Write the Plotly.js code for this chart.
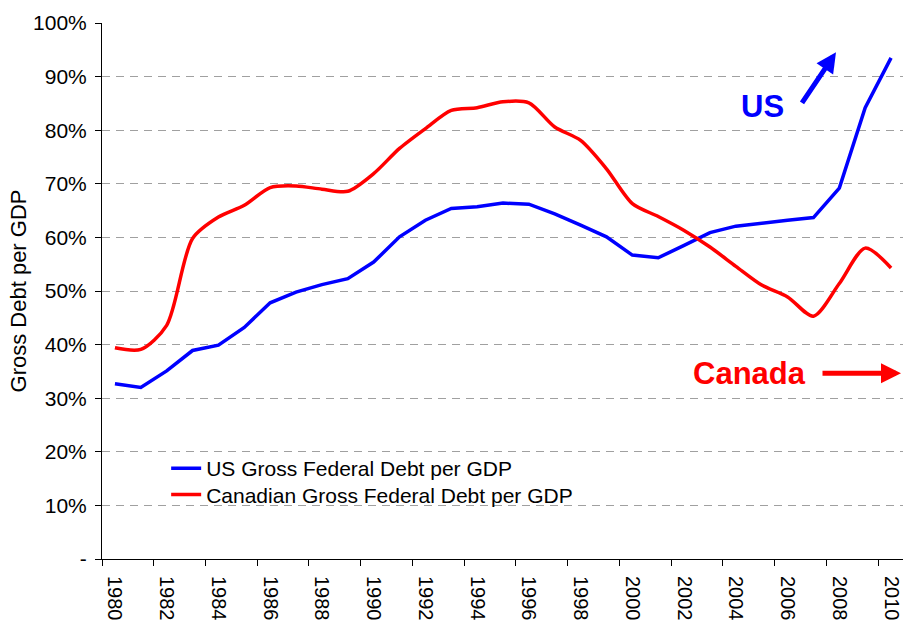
<!DOCTYPE html>
<html>
<head>
<meta charset="utf-8">
<script src="https://cdn.plot.ly/plotly-3.0.1.min.js"></script>
<style>
html,body{margin:0;padding:0;overflow:hidden;background:#fff;}
#chart{width:904px;height:623px;}
</style>
</head>
<body>
<div id="chart"></div>
<script>
// ---- data ----
const years = [1980,1981,1982,1983,1984,1985,1986,1987,1988,1989,1990,1991,1992,1993,1994,1995,
               1996,1997,1998,1999,2000,2001,2002,2003,2004,2005,2006,2007,2008,2009,2010];
const usDebt = [32.7,32.0,35.1,38.9,39.9,43.2,47.8,49.8,51.2,52.3,55.4,60.1,63.2,65.4,65.7,66.4,
                66.2,64.4,62.3,60.1,56.7,56.2,58.5,60.9,62.1,62.7,63.2,63.7,69.2,84.2,93.5];
const canDebt = [39.4,39.1,43.6,59.8,63.8,66.0,69.3,69.6,69.0,68.6,71.9,76.6,80.3,83.7,84.2,85.3,
                 85.1,80.6,78.1,72.8,66.3,63.9,61.3,58.2,54.6,51.1,48.9,45.3,51.4,58.0,54.3];
const seriesNames = ["US Gross Federal Debt per GDP", "Canadian Gross Federal Debt per GDP"];
const xTickYears = [1980,1982,1984,1986,1988,1990,1992,1994,1996,1998,2000,2002,2004,2006,2008,2010];
const xBoundaryTicks = [1979.5,1981.5,1983.5,1985.5,1987.5,1989.5,1991.5,1993.5,1995.5,1997.5,
                        1999.5,2001.5,2003.5,2005.5,2007.5,2009.5];
const yTickVals = [0,10,20,30,40,50,60,70,80,90,100];
const yTickText = ["-","10%","20%","30%","40%","50%","60%","70%","80%","90%","100%"];

const FONT = "Arial, 'Liberation Sans', sans-serif";

const traces = [
  {x: years, y: usDebt, name: seriesNames[0], type: "scatter", mode: "lines", legend: "legend",
   line: {color: "#0000FF", width: 3.5, shape: "linear"}},
  {x: years, y: canDebt, name: seriesNames[1], type: "scatter", mode: "lines", legend: "legend2",
   line: {color: "#FF0000", width: 3.5, shape: "spline", smoothing: 0.8}},
  // invisible trace to host the boundary tick axis
  {x: [xBoundaryTicks[0]], y: [0], xaxis: "x2", yaxis: "y", mode: "markers",
   marker: {opacity: 0}, showlegend: false, hoverinfo: "skip"}
];

const legendCommon = {xanchor: "left", yanchor: "top", bgcolor: "rgba(0,0,0,0)",
                      font: {size: 21, family: FONT}, itemwidth: 30};

const layout = {
  width: 904, height: 623,
  margin: {l: 102, r: 0, t: 23, b: 64},
  paper_bgcolor: "#fff", plot_bgcolor: "#fff",
  font: {family: FONT, size: 20, color: "#000"},
  showlegend: true,
  legend: Object.assign({x: 0.080, y: 0.207}, legendCommon),
  legend2: Object.assign({x: 0.080, y: 0.158}, legendCommon),
  xaxis: {range: [1979.5, 2010.5], tickmode: "array", tickvals: xTickYears,
          ticktext: xTickYears.map(String), tickangle: 90, ticks: "",
          showgrid: false, zeroline: false, showline: true, linecolor: "#000", linewidth: 1,
          tickfont: {size: 20, family: FONT}, ticklabelstandoff: 12},
  xaxis2: {range: [1979.5, 2010.5], overlaying: "x", side: "bottom", tickmode: "array",
           tickvals: xBoundaryTicks, showticklabels: false, ticks: "outside", ticklen: 6,
           tickcolor: "#000", showgrid: false, zeroline: false, showline: false},
  yaxis: {range: [0, 100], tickmode: "array", tickvals: yTickVals, ticktext: yTickText,
          ticks: "outside", ticklen: 6, tickcolor: "#000",
          showline: true, linecolor: "#000", linewidth: 1, zeroline: false,
          showgrid: true, gridcolor: "#a0a0a0", griddash: "8px,6px", gridwidth: 1,
          tickfont: {size: 21, family: FONT}, ticklabelstandoff: 4,
          title: {text: "Gross Debt per GDP", font: {size: 22, family: FONT}, standoff: 0}},
  annotations: [
    {xref: "paper", yref: "paper", x: (762-102)/802, y: (558.7-106)/536,
     text: "<b>US</b>", showarrow: false, font: {size: 31, color: "#0000FF", family: FONT},
     xanchor: "center", yanchor: "middle"},
    {xref: "paper", yref: "paper", x: (836-102)/802, y: (558.7-52)/536,
     ax: -35, ay: 52, text: "", showarrow: true, arrowhead: 2, arrowsize: 0.8,
     arrowwidth: 5, arrowcolor: "#0000FF"},
    {xref: "paper", yref: "paper", x: (749-102)/802, y: (558.7-373)/536,
     text: "<b>Canada</b>", showarrow: false, font: {size: 31, color: "#FF0000", family: FONT},
     xanchor: "center", yanchor: "middle"},
    {xref: "paper", yref: "paper", x: (901-102)/802, y: (558.7-373)/536,
     ax: -80, ay: 0, text: "", showarrow: true, arrowhead: 2, arrowsize: 0.8,
     arrowwidth: 5, arrowcolor: "#FF0000"}
  ]
};

Plotly.newPlot("chart", traces, layout, {displayModeBar: false, staticPlot: true});
</script>
</body>
</html>
